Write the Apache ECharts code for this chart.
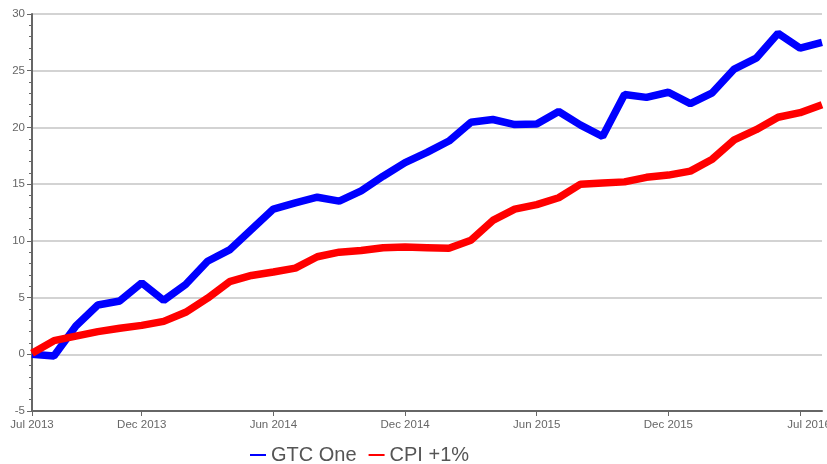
<!DOCTYPE html>
<html>
<head>
<meta charset="utf-8">
<script src="https://cdn.jsdelivr.net/npm/echarts@6/dist/echarts.min.js"></script>
<style>
html, body { margin: 0; padding: 0; background: #fff; }
#main { width: 827px; height: 464px; }
</style>
</head>
<body>
<div id="main"></div>
<script>
// months, one point each
var months = ['2013-07','2013-08','2013-09','2013-10','2013-11','2013-12',
    '2014-01','2014-02','2014-03','2014-04','2014-05','2014-06',
    '2014-07','2014-08','2014-09','2014-10','2014-11','2014-12',
    '2015-01','2015-02','2015-03','2015-04','2015-05','2015-06',
    '2015-07','2015-08','2015-09','2015-10','2015-11','2015-12',
    '2016-01','2016-02','2016-03','2016-04','2016-05','2016-06','2016-07'];

var gtcOne = [0, -0.15, 2.5, 4.35, 4.7, 6.3, 4.75, 6.15, 8.2, 9.2, 11.0, 12.8,
    13.35, 13.85, 13.5, 14.4, 15.7, 16.9, 17.8, 18.8, 20.45, 20.7, 20.25, 20.3,
    21.4, 20.2, 19.2, 22.9, 22.65, 23.1, 22.1, 23.05, 25.15, 26.1, 28.3, 27.0, 27.5];

var cpi = [0.1, 1.2, 1.6, 2.0, 2.3, 2.55, 2.9, 3.7, 4.95, 6.4, 6.95, 7.25,
    7.6, 8.6, 9.0, 9.15, 9.4, 9.45, 9.4, 9.35, 10.05, 11.8, 12.8, 13.2,
    13.8, 15.0, 15.1, 15.2, 15.6, 15.8, 16.15, 17.2, 18.9, 19.8, 20.9, 21.3, 22.0];

// x ticks and their labels
var tickIndex = [0, 5, 11, 17, 23, 29, 35];
var tickLabels = ['Jul 2013', 'Dec 2013', 'Jun 2014', 'Dec 2014', 'Jun 2015', 'Dec 2015', 'Jul 2016'];

(function(){
    var myChart = echarts.init(document.getElementById('main'));

    function isTick(i) { return tickIndex.indexOf(i) >= 0; }

    var option = {
        animation: false,
        backgroundColor: '#fff',
        grid: { left: 32, right: 5, top: 14, bottom: 53, outerBoundsMode: 'none', containLabel: false },
        legend: {
            data: ['GTC One', 'CPI +1%'],
            left: 245,
            top: 440,
            icon: 'rect',
            itemWidth: 16,
            itemHeight: 2,
            itemGap: 12,
            textStyle: { fontSize: 20, color: '#555', fontFamily: 'Liberation Sans' }
        },
        xAxis: {
            type: 'category',
            boundaryGap: false,
            data: months,
            axisLine: { onZero: false, lineStyle: { color: '#666', width: 2 } },
            axisTick: {
                interval: function (i) { return isTick(i); },
                length: 5,
                lineStyle: { color: '#666' }
            },
            axisLabel: {
                interval: function (i) { return isTick(i); },
                formatter: function (v, i) {
                    var k = tickIndex.indexOf(i);
                    if (k === tickIndex.length - 1) return '{last|' + tickLabels[k] + '}';
                    return k >= 0 ? tickLabels[k] : '';
                },
                rich: { last: { padding: [0, 0, 0, 18], fontSize: 11.5, color: '#666', fontFamily: 'Liberation Sans' } },
                fontSize: 11.5,
                color: '#666',
                fontFamily: 'Liberation Sans',
                margin: 8,
                showMaxLabel: true
            },
            splitLine: { show: false }
        },
        yAxis: {
            type: 'value',
            min: -5,
            max: 30,
            interval: 5,
            axisLine: { show: true, lineStyle: { color: '#666', width: 2 } },
            axisTick: { show: true, length: 5, lineStyle: { color: '#666' } },
            minorTick: { show: true, splitNumber: 5, length: 3, lineStyle: { color: '#666' } },
            axisLabel: { fontSize: 11.5, color: '#666', fontFamily: 'Liberation Sans', margin: 7 },
            splitLine: { lineStyle: { color: '#c4c4c4', width: 1.5 } }
        },
        series: [
            {
                name: 'GTC One',
                type: 'line',
                data: gtcOne,
                showSymbol: false,
                symbol: 'none',
                color: '#0000ff',
                lineStyle: { width: 7.5, color: '#0000ff' }
            },
            {
                name: 'CPI +1%',
                type: 'line',
                data: cpi,
                showSymbol: false,
                symbol: 'none',
                color: '#ff0000',
                lineStyle: { width: 7.5, color: '#ff0000' }
            }
        ]
    };

    myChart.setOption(option);
})();
</script>
</body>
</html>
